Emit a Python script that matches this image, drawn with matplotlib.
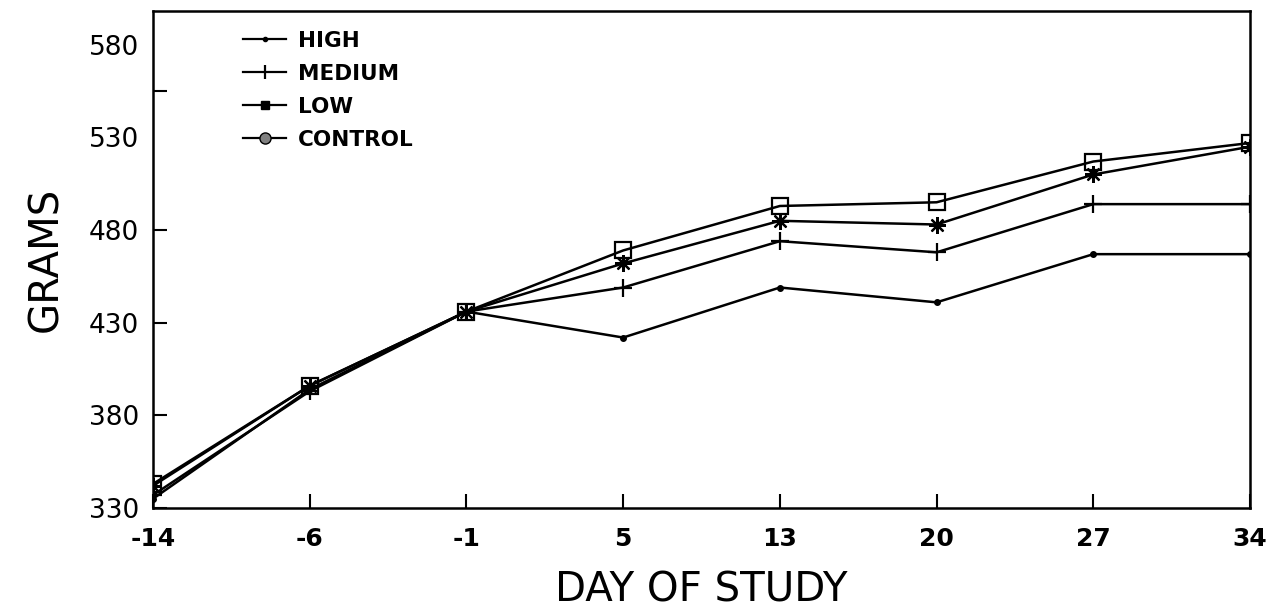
import matplotlib
matplotlib.use("Agg")
import matplotlib.pyplot as plt
from matplotlib.lines import Line2D

days = ['-14', '-6', '-1', '5', '13', '20', '27', '34']
high = [335, 394, 436, 422, 449, 441, 467, 467]
medium = [337, 393, 436, 449, 474, 468, 494, 494]
low = [342, 396, 436, 462, 485, 483, 510, 525]
control = [343, 396, 436, 469, 493, 495, 517, 527]
series_names = ['HIGH', 'MEDIUM', 'LOW', 'CONTROL']
y_ticks = [330, 380, 430, 480, 530, 580]

fig = plt.figure(figsize=(12.7, 6.1), dpi=100)
ax = fig.add_axes([153/1270, 1 - 508/610, (1250 - 153)/1270, (508 - 10.7)/610])

x = list(range(len(days)))
lw = 1.8
ax.plot(x, high, color='black', lw=lw, marker='o', ms=4, zorder=3)
ax.plot(x, medium, color='black', lw=lw, marker='+', ms=13, mew=1.6, zorder=3)
ax.plot(x, low, color='black', lw=lw, marker=(8, 2, 0), ms=12, mew=1.6, zorder=3)
ax.plot(x, control, color='black', lw=lw, marker='s', ms=11, mfc='none', mec='black', mew=1.6, zorder=4)

ax.set_xlim(0, len(days) - 1)
ax.set_ylim(330, 598.4)
ax.set_xticks(x)
ax.set_xticklabels(days, fontsize=18, fontweight='bold', family='DejaVu Sans')
ax.set_yticks(y_ticks)
ax.set_yticklabels([str(v) for v in y_ticks], fontsize=19, family='DejaVu Sans')
ax.set_yticks([555], minor=True)
ax.tick_params(axis='both', which='both', direction='in', length=10, width=1.5)
ax.tick_params(axis='x', pad=14)
ax.tick_params(axis='y', pad=10)
for t in ax.yaxis.get_major_ticks():
    if t.get_loc() >= 530:
        t.tick1line.set_visible(False)
for s in ax.spines.values():
    s.set_linewidth(1.8)

ax.set_xlabel('DAY OF STUDY', fontsize=29, family='DejaVu Sans', labelpad=14)
ax.set_ylabel('GRAMS', fontsize=29, family='DejaVu Sans', labelpad=16)

handles = [
    Line2D([], [], color='black', lw=1.6, marker='o', ms=3),
    Line2D([], [], color='black', lw=1.6, marker='|', ms=10, mew=1.6),
    Line2D([], [], color='black', lw=1.6, marker='s', ms=6),
    Line2D([], [], color='black', lw=1.6, marker='o', ms=8, mfc='gray', mec='black'),
]
leg = ax.legend(handles, series_names, loc='upper left',
                bbox_to_anchor=(243/1270, 1 - 31/610), bbox_transform=fig.transFigure,
                frameon=False, borderpad=0, borderaxespad=0, handlelength=2.0,
                handletextpad=0.55, labelspacing=0.6,
                prop={'family': 'DejaVu Sans', 'weight': 'bold', 'size': 15.5})

fig.savefig('out.png', dpi=100)
